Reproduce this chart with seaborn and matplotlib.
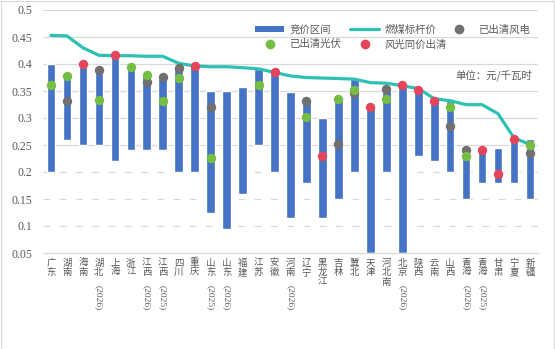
import numpy as np
import pandas as pd
import matplotlib
matplotlib.use("Agg")
import matplotlib.pyplot as plt
import seaborn as sns
from matplotlib.lines import Line2D
from matplotlib.patches import Patch, Rectangle

provinces = ["广东", "湖南", "海南", "湖北", "上海", "浙江", "江西", "江西", "四川", "重庆",
             "山东", "山东", "福建", "江苏", "安徽", "河南", "辽宁", "黑龙江", "吉林", "冀北",
             "天津", "河北南", "北京", "陕西", "云南", "山西", "青海", "青海", "甘肃", "宁夏", "新疆"]
years = ["", "", "", "(2026)", "", "", "(2026)", "(2025)", "", "",
         "(2025)", "(2026)", "", "", "", "(2026)", "", "", "", "",
         "", "", "(2026)", "", "", "", "(2026)", "(2025)", "", "", ""]
bid_high = [0.400, 0.378, 0.400, 0.389, 0.418, 0.395, 0.382, 0.378, 0.395, 0.398,
            0.350, 0.350, 0.358, 0.390, 0.385, 0.349, 0.333, 0.300, 0.336, 0.372,
            0.321, 0.356, 0.361, 0.353, 0.333, 0.332, 0.244, 0.240, 0.245, 0.263, 0.261]
bid_low = [0.200, 0.260, 0.250, 0.250, 0.220, 0.240, 0.240, 0.240, 0.200, 0.200,
           0.124, 0.094, 0.160, 0.250, 0.200, 0.114, 0.180, 0.114, 0.150, 0.200,
           0.050, 0.200, 0.050, 0.230, 0.220, 0.200, 0.150, 0.180, 0.180, 0.180, 0.150]
coal_price = [0.453, 0.452, 0.430, 0.4161, 0.4155, 0.4153, 0.4143, 0.4143, 0.4012, 0.3964,
              0.3949, 0.3949, 0.3932, 0.391, 0.3844, 0.3779, 0.3749, 0.374, 0.3731, 0.372,
              0.3655, 0.3644, 0.3598, 0.3545, 0.3358, 0.332, 0.3247, 0.3247, 0.3078, 0.263, 0.251]
wind_cleared = [None, 0.331, None, 0.3885, None, None, 0.366, 0.3755, 0.393, None,
                0.320, None, None, None, None, None, 0.332, None, 0.251, 0.347,
                None, 0.354, None, None, None, 0.286, 0.2415, None, None, None, 0.236]
solar_cleared = [0.361, 0.377, None, 0.334, None, 0.394, 0.380, 0.331, 0.374, None,
                 0.226, None, None, 0.361, None, None, 0.301, None, 0.3355, 0.352,
                 None, 0.3355, None, None, None, 0.321, 0.2296, None, None, None, 0.250]
parity_cleared = [None, None, 0.400, None, 0.417, None, None, None, None, 0.397,
                  None, None, None, None, 0.3854, None, None, 0.2296, None, None,
                  0.321, None, 0.361, 0.351, 0.3315, None, None, 0.241, 0.197, 0.261, None]

legend_labels = ["竞价区间", "燃煤标杆价", "已出清风电", "已出清光伏", "风光同价出清"]

BAR = "#4472C4"
LINE = "#2EC1B2"
GRAY = "#716F6F"
GREEN = "#76BE43"
RED = "#E5455B"
GRID = "#D9D9D9"
TXT = "#595959"

sns.set_theme(style="white")
plt.rcParams["font.family"] = ["Noto Sans CJK SC", "DejaVu Sans"]

n = len(provinces)
pos = np.arange(n)
df = pd.DataFrame({"pos": pos, "low": bid_low, "high": bid_high, "coal": coal_price,
                   "wind": pd.to_numeric(pd.Series(wind_cleared), errors="coerce"),
                   "solar": pd.to_numeric(pd.Series(solar_cleared), errors="coerce"),
                   "parity": pd.to_numeric(pd.Series(parity_cleared), errors="coerce")})

fig = plt.figure(figsize=(5.55, 3.49), dpi=100)
ax = fig.add_axes([43 / 555, 1 - 253 / 349, 495 / 555, 243 / 349])

# gridlines
for yv in [0.1, 0.15, 0.2]:
    ax.axhline(yv, color=GRID, lw=0.9, ls=(0, (5.5, 7.5)), zorder=0)
for yv in [0.25, 0.3, 0.35, 0.4, 0.45, 0.5]:
    ax.axhline(yv, color=GRID, lw=0.9, zorder=0)

ax.bar(df["pos"], df["high"] - df["low"], bottom=df["low"], width=0.54, color=BAR, zorder=2)
sns.lineplot(data=df, x="pos", y="coal", color=LINE, lw=2.3, ax=ax, zorder=3)
s = 46
sns.scatterplot(data=df.dropna(subset=["wind"]), x="pos", y="wind", color=GRAY, s=s,
                linewidth=0, ax=ax, zorder=4)
sns.scatterplot(data=df.dropna(subset=["solar"]), x="pos", y="solar", color=GREEN, s=s,
                linewidth=0, ax=ax, zorder=5)
sns.scatterplot(data=df.dropna(subset=["parity"]), x="pos", y="parity", color=RED, s=s,
                linewidth=0, ax=ax, zorder=6)

ax.set_xlim(-0.5, n - 0.5)
ax.set_ylim(0.05, 0.5)
ax.set_yticks([0.05, 0.1, 0.15, 0.2, 0.25, 0.3, 0.35, 0.4, 0.45, 0.5])
ax.set_yticklabels(["0.05", "0.1", "0.15", "0.2", "0.25", "0.3", "0.35", "0.4", "0.45", "0.5"],
                   family="Liberation Serif", fontsize=8.5, color=TXT)
ax.tick_params(axis="y", length=0, pad=8)
ax.set_xticks(pos)
ax.set_xticklabels(["\n".join(p) for p in provinces], fontsize=6.8, color=TXT, linespacing=1.05,
                   va="top")
ax.tick_params(axis="x", length=0, pad=4)
ax.set_xlabel("")
ax.set_ylabel("")
for sp in ["left", "right", "top"]:
    ax.spines[sp].set_visible(False)
ax.spines["bottom"].set_color(GRID)
ax.spines["bottom"].set_linewidth(1.0)

for i, yr in enumerate(years):
    if yr:
        ax.annotate(yr, xy=(i, 0), xycoords=("data", "axes fraction"), xytext=(0, -32),
                    textcoords="offset pixels", rotation=-90, ha="center", va="top",
                    fontsize=6.8, color=TXT, family="Liberation Serif")

ms = 7
h_bar = Patch(facecolor=BAR, edgecolor="none")
h_line = Line2D([], [], color=LINE, lw=2.3)
h_gray = Line2D([], [], color=GRAY, marker="o", ls="none", markersize=ms, markeredgewidth=0)
h_green = Line2D([], [], color=GREEN, marker="o", ls="none", markersize=ms, markeredgewidth=0)
h_red = Line2D([], [], color=RED, marker="o", ls="none", markersize=ms, markeredgewidth=0)

columns = [([h_bar, h_green], [legend_labels[0], legend_labels[3]], 255),
           ([h_line, h_red], [legend_labels[1], legend_labels[4]], 350),
           ([h_gray], [legend_labels[2]], 444)]
legs = []
for hs, ls, xpx in columns:
    lg = ax.legend(hs, ls, loc="upper left", bbox_to_anchor=((xpx - 43) / 495, 0.94),
                   frameon=False, fontsize=7.5, handlelength=2.8, handleheight=0.6,
                   handletextpad=0.5, labelspacing=0.45, borderaxespad=0, borderpad=0)
    for t in lg.get_texts():
        t.set_color(TXT)
    legs.append(lg)
for lg in legs[:-1]:
    ax.add_artist(lg)

ax.text(0.988, 0.733, "单位：元/千瓦时", transform=ax.transAxes, ha="right", va="center",
        fontsize=7.5, color=TXT)

fig.patches.append(Rectangle((0.5 / 555, 0.5 / 349), 1 - 1.5 / 555, 1 - 1.5 / 349,
                             transform=fig.transFigure, fill=False, edgecolor=GRID, lw=0.8))

fig.savefig("out.png", dpi=100)
